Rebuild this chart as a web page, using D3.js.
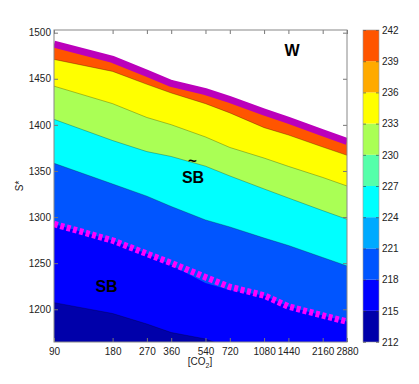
<!DOCTYPE html>
<html>
<head>
<meta charset="utf-8">
<script src="https://cdn.jsdelivr.net/npm/d3@7"></script>
<style>
  body { margin: 0; background: #fff; }
  text { font-family: "Liberation Sans", Arial, sans-serif; }
</style>
</head>
<body>
<svg id="chart" width="419" height="384"></svg>
<script>
// CO2 sample points (x axis, log) and tick labels
var co2 = [90, 180, 270, 360, 540, 720, 1080, 1440, 2160, 2880];
var sTicks = [1200, 1250, 1300, 1350, 1400, 1450, 1500];
var cbTicks = [212, 215, 218, 221, 224, 227, 230, 233, 236, 239, 242];
var cbColors = ["#0000AA", "#0000FF", "#0055FF", "#00AAFF", "#00FFFF",
                "#55FFAA", "#AAFF55", "#FFFF00", "#FFAA00", "#FF5500"];

// contour boundaries (S* at each co2 value), top to bottom
var wEdge      = [1487.5, 1471, 1456, 1445, 1436, 1427.5, 1414, 1405, 1391.5, 1382];
var c236       = [1471, 1458, 1444, 1434.6, 1423, 1413, 1397, 1389, 1376, 1367];
var c233       = [1442, 1423, 1408, 1400.2, 1386.9, 1375.5, 1364, 1355, 1343, 1333.7];
var c230       = [1406, 1383, 1371, 1365.7, 1355.2, 1344.6, 1330.5, 1320.7, 1307, 1297.6];
var c221       = [1358.4, 1335.9, 1322.7, 1311.5, 1296.9, 1289.3, 1277.3, 1269.2, 1256.2, 1247];
var c218       = [1292.5, 1274.6, 1260.2, 1248, 1228.5, 1221, 1215, 1203, 1193.3, 1186.6];
var c215       = [1207.2, 1195.4, 1184, 1174.8, 1167.8, 1158, 1150, 1142, 1135, 1128];
var sbEdge     = [1292.5, 1274.6, 1260.2, 1250.2, 1234.7, 1224.2, 1215, 1203, 1193.3, 1186.6];

// filled bands: boundary + colour of the region below it
var bands = [
  {edge: wEdge, color: "#FF5500"},
  {edge: c236, color: "#FFFF00"},
  {edge: c233, color: "#AAFF55"},
  {edge: c230, color: "#00FFFF"},
  {edge: c221, color: "#0055FF"},
  {edge: c218, color: "#0000FF"},
  {edge: c215, color: "#0000AA"}
];

const margin = {top: 30, left: 54},
      width = 293,
      height = 312;

let svg = d3.select("#chart");

var x = d3.scaleLog().domain([90, 2880]).range([0, width]);
var y = d3.scaleLinear().domain([1164.5, 1502.9]).range([height, 0]);

svg.append("defs").append("clipPath").attr("id", "plotclip")
    .append("rect").attr("width", width).attr("height", height);

const g = svg.append("g")
    .attr("transform", `translate(${margin.left}, ${margin.top})`);

const plot = g.append("g").attr("clip-path", "url(#plotclip)");

function pts(edge) { return edge.map((s, i) => [co2[i], s]); }

var area = d3.area()
    .x(d => x(d[0]))
    .y0(height)
    .y1(d => y(d[1]));

var line = d3.line()
    .x(d => x(d[0]))
    .y(d => y(d[1]));

bands.forEach(function(b) {
    plot.append("path")
        .attr("d", area(pts(b.edge)))
        .attr("fill", b.color);
});

// thin contour lines
[c236, c233, c230, c221, c215].forEach(function(e) {
    plot.append("path")
        .attr("d", line(pts(e)))
        .attr("fill", "none")
        .attr("stroke", "#000")
        .attr("stroke-opacity", 0.45)
        .attr("stroke-width", 0.6);
});

// warm state edge
plot.append("path")
    .attr("d", line(pts(wEdge)))
    .attr("fill", "none")
    .attr("stroke", "#BB00BB")
    .attr("stroke-width", 7);

// snowball edge, dashed
plot.append("path")
    .attr("d", line(pts(sbEdge)))
    .attr("fill", "none")
    .attr("stroke", "#FF00FF")
    .attr("stroke-width", 6.5)
    .attr("stroke-dasharray", "4,2.6");

// region labels
g.append("text").attr("x", 238).attr("y", 25.5)
    .attr("text-anchor", "middle").attr("font-size", 16).attr("font-weight", "bold")
    .text("W");
g.append("text").attr("x", 139).attr("y", 152.5)
    .attr("text-anchor", "middle").attr("font-size", 16).attr("font-weight", "bold")
    .text("SB");
g.append("text").attr("x", 138.5).attr("y", 136)
    .attr("text-anchor", "middle").attr("font-size", 15).attr("font-weight", "bold")
    .text("~");
g.append("text").attr("x", 52.5).attr("y", 262)
    .attr("text-anchor", "middle").attr("font-size", 16).attr("font-weight", "bold")
    .text("SB");

// axes
var xAxis = g.append("g")
    .attr("transform", "translate(0," + height + ")")
    .call(d3.axisBottom(x).tickValues(co2).tickFormat(d3.format("d"))
        .tickSizeInner(-4).tickSizeOuter(0).tickPadding(6));
var xTop = g.append("g")
    .call(d3.axisTop(x).tickValues(co2).tickFormat("")
        .tickSizeInner(-4).tickSizeOuter(0));
var yAxis = g.append("g")
    .call(d3.axisLeft(y).tickValues(sTicks).tickFormat(d3.format("d"))
        .tickSizeInner(-4).tickSizeOuter(0).tickPadding(3));
var yRight = g.append("g")
    .attr("transform", "translate(" + width + ",0)")
    .call(d3.axisRight(y).tickValues(sTicks).tickFormat("")
        .tickSizeInner(-4).tickSizeOuter(0));

[xAxis, xTop, yAxis, yRight].forEach(function(a) {
    a.select(".domain").remove();
    a.selectAll("line").attr("stroke", "#777");
    a.selectAll("text").attr("font-size", 10).attr("fill", "#222")
        .attr("font-family", "'Liberation Sans', Arial, sans-serif");
});

g.append("rect")
    .attr("width", width).attr("height", height)
    .attr("fill", "none").attr("stroke", "#888").attr("stroke-width", 1);

// axis titles
svg.append("text")
    .attr("transform", "translate(23,186) rotate(-90)")
    .attr("text-anchor", "middle").attr("font-size", 10).attr("fill", "#222")
    .text("S*");
var xt = svg.append("text")
    .attr("x", 200).attr("y", 365)
    .attr("text-anchor", "middle").attr("font-size", 10).attr("fill", "#222");
xt.append("tspan").text("[CO");
xt.append("tspan").attr("font-size", 7).attr("dy", 3).text("2");
xt.append("tspan").attr("dy", -3).text("]");

// colour bar
var cb = svg.append("g").attr("transform", "translate(363,30)");
var cbY = d3.scaleLinear().domain([212, 242]).range([height, 0]);
var cbW = 16;

cb.selectAll("rect.cell")
    .data(cbColors)
    .enter()
    .append("rect")
    .attr("class", "cell")
    .attr("x", 0)
    .attr("y", (d, i) => cbY(cbTicks[i + 1]))
    .attr("width", cbW)
    .attr("height", (d, i) => cbY(cbTicks[i]) - cbY(cbTicks[i + 1]))
    .attr("fill", d => d);

var cbAxis = cb.append("g")
    .attr("transform", "translate(" + cbW + ",0)")
    .call(d3.axisRight(cbY).tickValues(cbTicks).tickFormat(d3.format("d"))
        .tickSizeInner(-3).tickSizeOuter(0).tickPadding(3));
cbAxis.select(".domain").remove();
cbAxis.selectAll("line").attr("stroke", "#333").attr("stroke-opacity", 0.6);
cbAxis.selectAll("text").attr("font-size", 10).attr("fill", "#222")
    .attr("font-family", "'Liberation Sans', Arial, sans-serif");

var cbLeft = cb.append("g")
    .call(d3.axisLeft(cbY).tickValues(cbTicks).tickFormat("")
        .tickSizeInner(-3).tickSizeOuter(0));
cbLeft.select(".domain").remove();
cbLeft.selectAll("line").attr("stroke", "#333").attr("stroke-opacity", 0.6);

cb.append("rect")
    .attr("width", cbW).attr("height", height)
    .attr("fill", "none").attr("stroke", "#999").attr("stroke-width", 0.6);
</script>
</body>
</html>
